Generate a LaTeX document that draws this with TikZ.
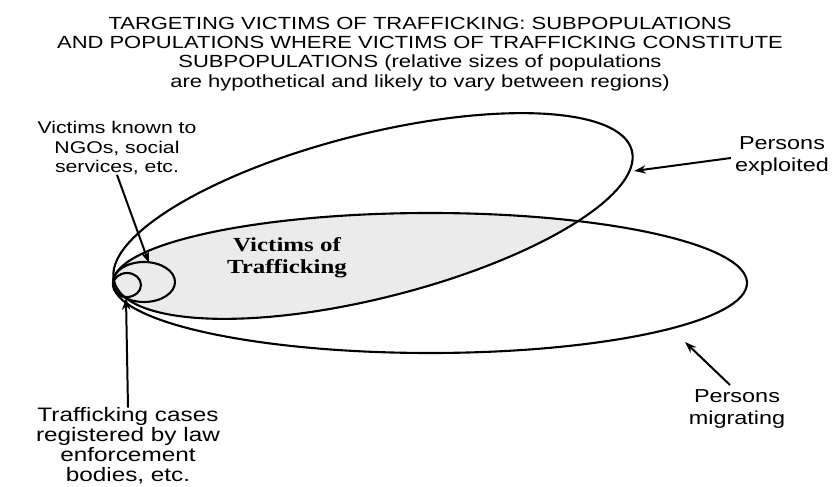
\documentclass[tikz,border=0pt]{standalone}
\usepackage{fontspec}
\setmainfont{Liberation Serif}
\newfontfamily\labelfont[FakeStretch=1.25]{Liberation Sans}
\newfontfamily\centrefont[FakeStretch=1.25]{Liberation Serif}
\usetikzlibrary{arrows.meta}

\begin{document}
\begin{tikzpicture}[x=0.03cm, y=-0.03cm,
  outline/.style={line width=1.8pt},
  pointer/.style={line width=1.7pt, -{Stealth[length=10pt,width=7pt]}},
  caption/.style={align=center, inner sep=0pt, font=\labelfont\fontsize{14.5}{16.5}\selectfont},
  heading/.style={align=center, inner sep=0pt, font=\labelfont\fontsize{15}{16.4}\selectfont}]

  \useasboundingbox (0,0) rectangle (834,487);

  % shaded overlap of the two large populations
  \begin{scope}
    \clip (430,283) ellipse [x radius=317, y radius=70];
    \fill[black!8, rotate around={14.15:(373,216)}] (373,216) ellipse [x radius=267, y radius=82];
  \end{scope}

  % populations
  \draw[outline, rotate around={14.15:(373,216)}] (373,216) ellipse [x radius=267, y radius=82];
  \draw[outline] (430,283) ellipse [x radius=317, y radius=70];
  \draw[outline] (144,282) ellipse [x radius=31, y radius=20];
  \draw[outline] (127,285) ellipse [x radius=14, y radius=12];

  \node[heading] (title) at (420,54) {TARGETING VICTIMS OF TRAFFICKING: SUBPOPULATIONS\\
    AND POPULATIONS WHERE VICTIMS OF TRAFFICKING CONSTITUTE\\
    SUBPOPULATIONS (relative sizes of populations\\
    are hypothetical and likely to vary between regions)};

  \node[align=center, inner sep=0pt, font=\centrefont\bfseries\fontsize{17}{19}\selectfont] (victims) at (287,258) {Victims of\\Trafficking};

  \node[caption] (ngo) at (117,148) {Victims known to\\NGOs, social\\services, etc.};
  \node[caption, font=\labelfont\fontsize{16}{18.5}\selectfont] (exploited) at (782,156) {Persons\\exploited};
  \node[caption, font=\labelfont\fontsize{16}{18}\selectfont] (migrating) at (737,409) {Persons\\migrating};
  \node[caption, font=\labelfont\fontsize{16.6}{17}\selectfont] (cases) at (128,446) {Trafficking cases\\registered by law\\enforcement\\bodies, etc.};

  \coordinate (ngotip) at (149,263);
  \coordinate (exptip) at (634,171);
  \coordinate (migtail) at (730,385);
  \coordinate (migtip) at (685,342);
  \coordinate (casetip) at (126,298);

  \draw[pointer] (ngo.south) -- (ngotip);
  \draw[pointer] (exploited.west) ++(-4,2) -- (exptip);
  \draw[pointer] (migtail) -- (migtip);
  \draw[pointer] (cases.north) -- (casetip);
\end{tikzpicture}
\end{document}
